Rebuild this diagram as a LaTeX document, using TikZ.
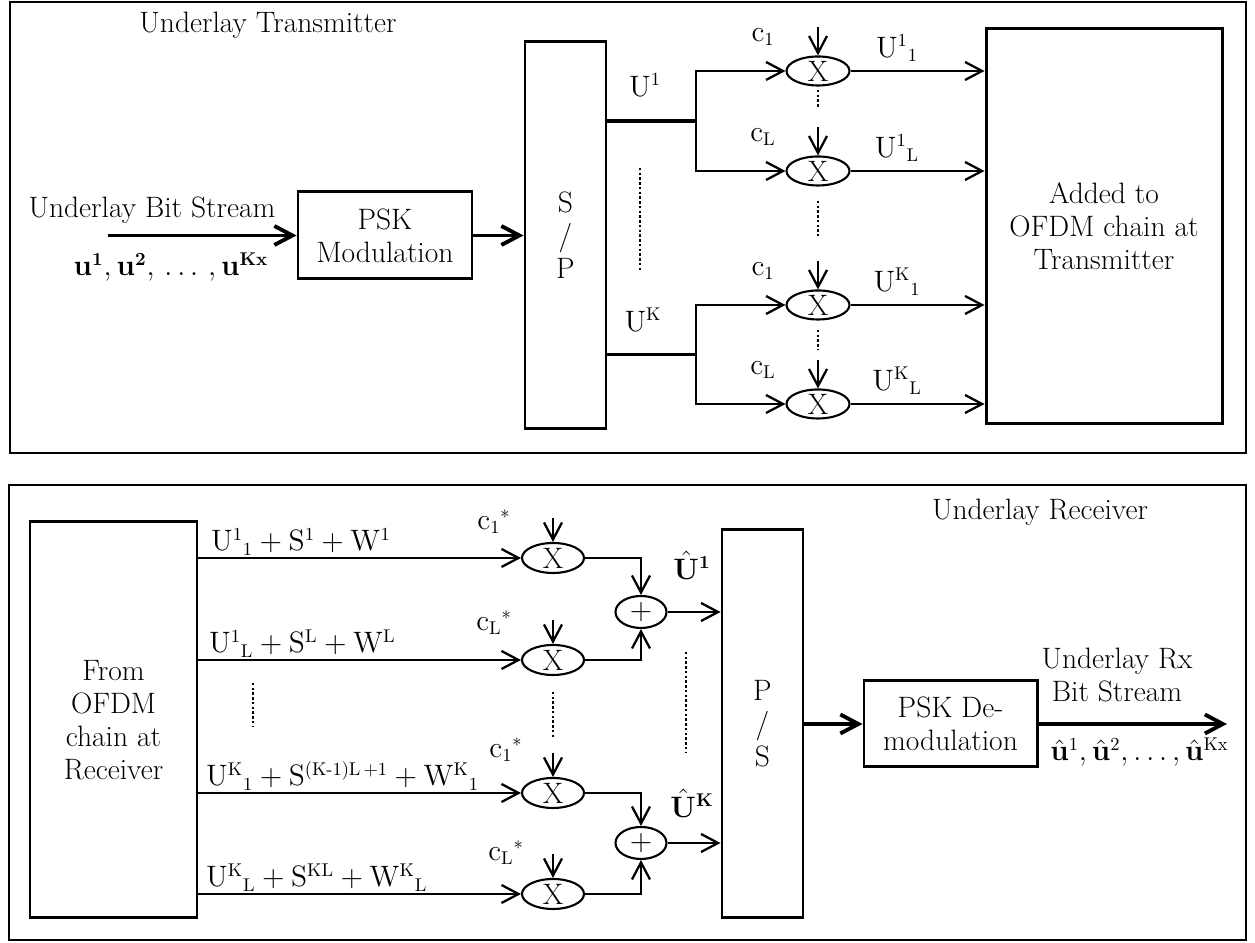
\RequirePackage{fix-cm}
\documentclass[tikz,border=0pt]{standalone}
\usepackage{amsmath}
\usetikzlibrary{arrows.meta,shapes.geometric}
\DeclareMathSizes{16.8}{16.8}{10.5}{8}

\begin{document}
\begin{tikzpicture}[
  font=\fontsize{16.8}{18.7}\selectfont,
  blk/.style={draw, line width=1.7pt, align=center, inner sep=0pt},
  mult/.style={draw, ellipse, line width=1.2pt, minimum width=1.26cm, minimum height=0.58cm, inner sep=0pt},
  arr/.style={-{Straight Barb[length=3.4mm,width=3.6mm]}, line width=1.3pt},
  tarr/.style={-{Straight Barb[length=3.6mm,width=3.8mm]}, line width=2.2pt},
  dots/.style={line width=1.7pt, dash pattern=on 1.4pt off 1.3pt}
]
  \useasboundingbox (0,0) rectangle (25.1,18.86);
  % frames
  \draw[line width=1.2pt] (0.2,9.8) rectangle (24.92,18.82);
  \draw[line width=1.2pt] (0.18,0.06) rectangle (24.92,9.16);

  % transmitter
  \node (txttl) at (5.36,18.36) {Underlay Transmitter};
  \node[blk, minimum width=3.48cm, minimum height=1.74cm] (psk) at (7.7,14.15) {PSK\\Modulation};
  \node[blk, minimum width=1.62cm, minimum height=7.74cm] (sp) at (11.31,14.15) {S\\/\\P};
  \node[blk, minimum width=4.72cm, minimum height=7.9cm] (add) at (22.08,14.33) {Added to\\OFDM chain at\\Transmitter};
  \coordinate (bitin) at (2.16,14.15);
  \draw[tarr] (bitin) -- (psk);
  \node (bslab) at (3.04,14.66) {Underlay Bit Stream};
  \node (ulab) at (3.42,13.52) {$\mathbf{u}^{\mathbf{1}}{,}\,\mathbf{u}^{\mathbf{2}}{,}\,\ldots\,{,}\,\mathbf{u}^{\mathbf{Kx}}$};
  \draw[tarr] (psk) -- (sp);

  \foreach \n/\yy/\ci/\ki/\si in {m1/17.44/1/1/1, m2/15.44/L/1/L, m3/12.76/1/K/1, m4/10.78/L/K/L} {
    \node[mult] (\n) at (16.36,\yy) {X};
    \coordinate (\n c) at (16.36,\yy+0.88);
    \draw[arr] (\n c) -- (\n.north);
    \node (\n lab) at (15.26,\yy+0.68) {$\mathrm{c}_{\mathrm{\ci}}$};
    \draw[arr] (\n) -- (\n -| add.west);
    \node (\n out) at (17.94,\yy+0.46) {$\mathrm{U}^{\mathrm{\ki}}{}_{\mathrm{\si}}$};
  }
  \coordinate (j1) at (13.92,16.44);
  \coordinate (j2) at (13.92,11.77);
  \draw[line width=2pt] (sp.east |- j1) -- (j1);
  \draw[line width=2pt] (sp.east |- j2) -- (j2);
  \draw[arr] (j1) |- (m1);
  \draw[arr] (j1) |- (m2);
  \draw[arr] (j2) |- (m3);
  \draw[arr] (j2) |- (m4);
  \node (u1lab) at (12.9,17.16) {$\mathrm{U}^{1}$};
  \node (uklab) at (12.86,12.46) {$\mathrm{U}^{\mathrm{K}}$};
  \draw[dots] (12.8,15.5) -- (12.8,13.46);
  \draw[dots] (16.36,17.06) -- (16.36,16.7);
  \draw[dots] (16.36,14.84) -- (16.36,14.14);
  \draw[dots] (16.36,12.26) -- (16.36,11.86);

  % receiver
  \node (rxttl) at (20.8,8.62) {Underlay Receiver};
  \node[blk, minimum width=3.34cm, minimum height=7.92cm] (rx) at (2.27,4.46) {From\\OFDM\\chain at\\Receiver};
  \node[blk, minimum width=1.62cm, minimum height=7.76cm] (ps) at (15.25,4.38) {P\\/\\S};
  \node[blk, minimum width=3.46cm, minimum height=1.72cm] (pskd) at (19.01,4.38) {PSK De-\\modulation};
  \draw[tarr] (ps) -- (pskd);
  \coordinate (bitout) at (24.54,4.38);
  \draw[tarr] (pskd) -- (bitout);
  \node[align=center] (rxbs) at (22.34,5.36) {Underlay Rx\\Bit Stream};
  \node[anchor=west, inner sep=0pt] (uhat) at (21.0,3.82) {$\hat{\mathbf{u}}^{1}{,}\,\hat{\mathbf{u}}^{2}{,}\ldots{,}\,\hat{\mathbf{u}}^{\mathrm{Kx}}$};

  \foreach \n/\yy/\ci/\cx/\cy in {r1/7.7/1/9.88/0.72, r2/5.66/L/9.88/0.74, r3/3.0/1/10.12/0.86, r4/0.98/L/10.12/0.82} {
    \node[mult, minimum width=1.24cm, minimum height=0.6cm] (\n) at (11.06,\yy) {X};
    \draw[arr] (rx.east |- \n) -- (\n);
    \coordinate (\n c) at (11.06,\yy+0.8);
    \draw[arr] (\n c) -- (\n.north);
    \node (\n lab) at (\cx,\yy+\cy) {$\mathrm{c}_{\mathrm{\ci}}{}^{*}$};
  }
  \node[anchor=base west] (l1) at (4.1,7.84) {$\mathrm{U^{1}{}_{1} + S^{1} + W^{1}}$};
  \node[anchor=base west] (l2) at (4.06,5.8) {$\mathrm{U^{1}{}_{L} + S^{L} + W^{L}}$};
  \node[anchor=base west] (l3) at (4.0,3.14) {$\mathrm{U^{K}{}_{1} + S^{(K\text{-}1)L\,+1} + W^{K}{}_{1}}$};
  \node[anchor=base west] (l4) at (4.0,1.12) {$\mathrm{U^{K}{}_{L} + S^{KL} + W^{K}{}_{L}}$};

  \node[mult, minimum width=1.02cm, minimum height=0.64cm] (p1) at (12.82,6.62) {$+$};
  \node[mult, minimum width=1.02cm, minimum height=0.64cm] (p2) at (12.82,2.0) {$+$};
  \draw[arr] (r1) -| (p1);
  \draw[arr] (r2) -| (p1);
  \draw[arr] (r3) -| (p2);
  \draw[arr] (r4) -| (p2);
  \draw[arr] (p1) -- (p1 -| ps.west);
  \draw[arr] (p2) -- (p2 -| ps.west);
  \node (uh1) at (13.84,7.56) {$\hat{\mathbf{U}}^{\mathbf{1}}$};
  \node (uhk) at (13.84,2.8) {$\hat{\mathbf{U}}^{\mathbf{K}}$};
  \draw[dots] (13.72,5.82) -- (13.72,3.82);
  \draw[dots] (11.06,5.02) -- (11.06,4.12);
  \draw[dots] (5.06,5.2) -- (5.06,4.32);
\end{tikzpicture}
\end{document}
